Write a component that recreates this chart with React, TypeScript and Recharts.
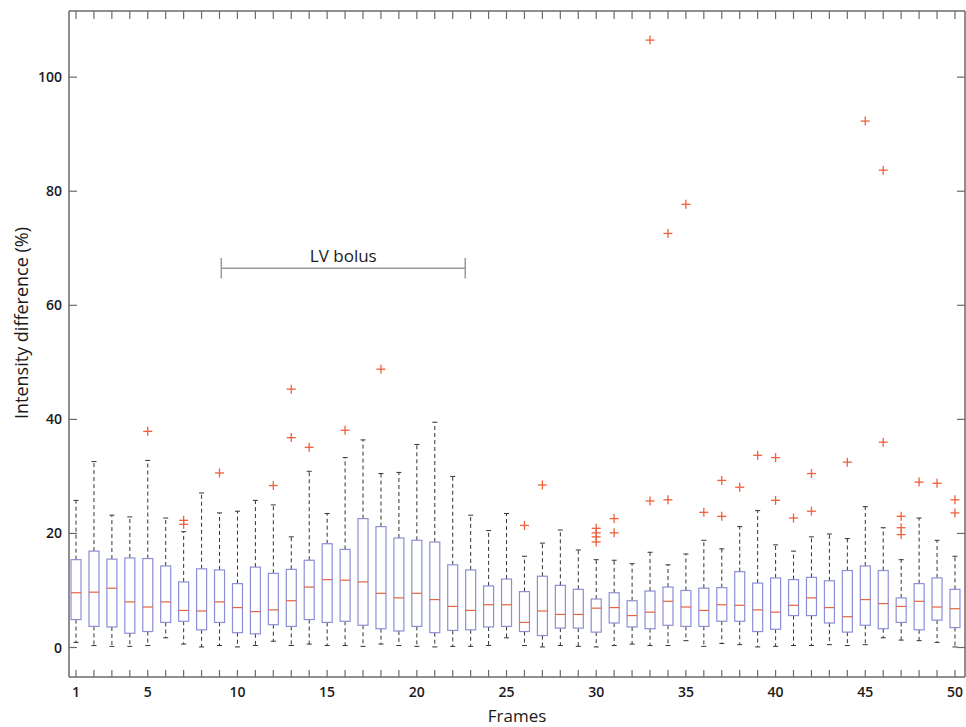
import { ComposedChart, Bar, Scatter, XAxis, YAxis, ReferenceLine, Label } from "recharts";

const frames = [
  1, 2, 3, 4, 5, 6, 7, 8, 9, 10, 11, 12, 13, 14, 15, 16, 17, 18, 19, 20, 21, 22, 23, 24, 25,
  26, 27, 28, 29, 30, 31, 32, 33, 34, 35, 36, 37, 38, 39, 40, 41, 42, 43, 44, 45, 46, 47, 48, 49, 50,
];
const whiskerLow = [
  0.9, 0.35, 0.2, 0.2, 0.35, 1.7, 0.6, 0.1, 0.35, 0.1, 0.35, 1.1, 0.35, 0.6, 0.35, 0.35, 0.2, 0.6, 0.35, 0.2,
  0.1, 0.2, 0.2, 0.35, 1.7, 0.35, 0.1, 0.35, 0.2, 0.1, 0.35, 0.6, 0.35, 0.35, 1.2, 0.2, 0.7, 0.5, 0.1, 0.2,
  0.35, 0.35, 0.5, 0.35, 0.5, 1.7, 1.3, 1.2, 0.9, 0.1,
];
const quartile1 = [
  4.9, 3.7, 3.6, 2.5, 2.8, 4.4, 4.6, 3.1, 4.4, 2.6, 2.4, 4.0, 3.7, 4.9, 4.4, 4.6, 3.9, 3.3, 2.9, 3.7,
  2.6, 3.0, 3.1, 3.6, 3.7, 2.8, 2.1, 3.4, 3.4, 2.7, 4.3, 3.6, 3.3, 3.9, 3.7, 3.7, 4.6, 4.6, 2.8, 3.2,
  5.6, 5.6, 4.3, 2.7, 3.9, 3.3, 4.4, 3.1, 4.8, 3.5,
];
const medians = [
  9.6, 9.7, 10.4, 8.0, 7.1, 8.0, 6.5, 6.4, 8.0, 7.0, 6.3, 6.6, 8.2, 10.6, 11.9, 11.8, 11.5, 9.5, 8.7, 9.5,
  8.4, 7.2, 6.5, 7.5, 7.5, 4.4, 6.4, 5.8, 5.8, 6.9, 7.0, 5.6, 6.2, 8.1, 7.1, 6.5, 7.5, 7.4, 6.6, 6.2,
  7.4, 8.7, 7.0, 5.4, 8.4, 7.7, 7.2, 8.1, 7.1, 6.8,
];
const quartile3 = [
  15.4, 16.9, 15.5, 15.7, 15.6, 14.3, 11.5, 13.8, 13.6, 11.2, 14.1, 13.0, 13.7, 15.3, 18.2, 17.2, 22.6, 21.2, 19.2, 18.8,
  18.5, 14.5, 13.6, 10.8, 12.0, 9.8, 12.5, 10.9, 10.2, 8.5, 9.6, 8.2, 9.9, 10.6, 10.0, 10.4, 10.5, 13.3, 11.3, 12.2,
  11.9, 12.3, 11.7, 13.5, 14.3, 13.5, 8.7, 11.2, 12.2, 10.2,
];
const whiskerHigh = [
  25.8, 32.6, 23.2, 22.9, 32.8, 22.7, 20.3, 27.1, 23.6, 23.9, 25.8, 25.0, 19.4, 30.9, 23.5, 33.3, 36.4, 30.5, 30.7, 35.6,
  39.5, 30.0, 23.2, 20.5, 23.5, 16.0, 18.3, 20.6, 17.1, 15.4, 15.3, 14.7, 16.7, 14.5, 16.4, 18.8, 17.3, 21.2, 24.0, 18.0,
  16.9, 19.4, 19.9, 19.1, 24.7, 21.0, 15.4, 22.7, 18.8, 16.0,
];
const outlierFrames = [
  5, 7, 7, 9, 12, 13, 13, 14, 16, 18, 26, 27, 30, 30, 30, 30, 31, 31, 33, 33, 34, 34, 35, 36, 37, 37,
  38, 39, 40, 40, 41, 42, 42, 44, 45, 46, 46, 47, 47, 47, 48, 49, 50, 50,
];
const outlierValues = [
  37.9, 22.3, 21.6, 30.6, 28.4, 36.8, 45.3, 35.1, 38.1, 48.8, 21.4, 28.5, 20.9, 20.1, 19.4, 18.5, 22.6, 20.1, 106.5, 25.7,
  72.6, 25.9, 77.7, 23.7, 29.3, 23.0, 28.1, 33.7, 33.3, 25.8, 22.7, 30.5, 23.9, 32.5, 92.3, 36.0, 83.7, 23.0, 21.0, 19.8,
  29.0, 28.8, 25.9, 23.6,
];
const xTickLabels = [1, 5, 10, 15, 20, 25, 30, 35, 40, 45, 50];
const yTicks = [0, 20, 40, 60, 80, 100];

const boxData = frames.map((frame, i) => ({
  frame,
  lo: whiskerLow[i],
  q1: quartile1[i],
  med: medians[i],
  q3: quartile3[i],
  hi: whiskerHigh[i],
}));
const outlierData = outlierFrames.map((frame, i) => ({ frame, value: outlierValues[i] }));

const AXIS = "#6a6a6a";
const TEXT = "#1a1a1a";
const BOX = "#8c8fd6";
const MEDIAN = "#e4643e";
const OUTLIER = "#f0603a";
const WHISKER = "#333";
const FONT = "'Open Sans', 'Noto Sans', sans-serif";

function BoxShape(props: any) {
  const { x, y, width, height, payload } = props;
  if (x == null || y == null) return null;
  const top = Math.min(y, y + height);
  const bottom = Math.max(y, y + height);
  const { lo, q1, med, q3, hi } = payload;
  const toY = (v: number) => bottom - ((v - lo) / (hi - lo)) * (bottom - top);
  const cx = x + width / 2;
  const half = 5;
  const cap = 2.5;
  return (
    <g>
      <line x1={cx} x2={cx} y1={toY(q3)} y2={toY(hi)} stroke={WHISKER} strokeDasharray="4 3" />
      <line x1={cx} x2={cx} y1={toY(q1)} y2={toY(lo)} stroke={WHISKER} strokeDasharray="4 3" />
      <line x1={cx - cap} x2={cx + cap} y1={toY(hi)} y2={toY(hi)} stroke={WHISKER} />
      <line x1={cx - cap} x2={cx + cap} y1={toY(lo)} y2={toY(lo)} stroke={WHISKER} />
      <rect
        x={cx - half}
        y={toY(q3)}
        width={half * 2}
        height={toY(q1) - toY(q3)}
        fill="#fff"
        stroke={BOX}
        strokeWidth={1.2}
      />
      <line x1={cx - half} x2={cx + half} y1={toY(med)} y2={toY(med)} stroke={MEDIAN} strokeWidth={1.2} />
    </g>
  );
}

function Cross(props: any) {
  const { cx, cy } = props;
  if (cx == null || cy == null) return null;
  return (
    <g stroke={OUTLIER} strokeWidth={1.3}>
      <line x1={cx - 4.5} x2={cx + 4.5} y1={cy} y2={cy} />
      <line x1={cx} x2={cx} y1={cy - 4.5} y2={cy + 4.5} />
    </g>
  );
}

function BottomTick(props: any) {
  const { x, y, payload } = props;
  return (
    <g>
      <line x1={x} x2={x} y1={y} y2={y - 7} stroke={AXIS} strokeWidth={1.2} />
      {xTickLabels.includes(payload.value) && (
        <text x={x} y={y + 20} textAnchor="middle" fill={TEXT} fontSize={14} fontWeight={600} fontFamily={FONT}>
          {payload.value}
        </text>
      )}
    </g>
  );
}

function TopTick(props: any) {
  const { x, y } = props;
  return <line x1={x} x2={x} y1={y} y2={y + 8} stroke={AXIS} strokeWidth={1.2} />;
}

function LeftTick(props: any) {
  const { x, y, payload } = props;
  return (
    <g>
      <line x1={x} x2={x + 8} y1={y} y2={y} stroke={AXIS} strokeWidth={1.2} />
      <text x={x - 7} y={y} dy={5} textAnchor="end" fill={TEXT} fontSize={14} fontWeight={600} fontFamily={FONT}>
        {payload.value}
      </text>
    </g>
  );
}

function RightTick(props: any) {
  const { x, y } = props;
  return <line x1={x} x2={x - 8} y1={y} y2={y} stroke={AXIS} strokeWidth={1.2} />;
}

const xDomain = [0.61, 50.56];
const yDomain = [-5.17, 111.6];

export default function App() {
  return (
    <div style={{ position: "absolute", left: 0, top: 0, background: "#fff" }}>
      <ComposedChart width={966} height={727} data={boxData} margin={{ top: 10, right: 0, bottom: 49, left: 0 }}>
        <XAxis
          xAxisId="b"
          dataKey="frame"
          type="number"
          domain={xDomain}
          allowDataOverflow
          ticks={frames}
          interval={0}
          height={1}
          tickSize={0}
          tickMargin={0}
          tickLine={false}
          tick={<BottomTick />}
          axisLine={{ stroke: AXIS, strokeWidth: 1.5 }}
        >
          <Label
            content={() => (
              <text x={517} y={722} textAnchor="middle" fill={TEXT} fontSize={17} fontFamily={FONT}>
                Frames
              </text>
            )}
          />
        </XAxis>
        <XAxis
          xAxisId="t"
          orientation="top"
          dataKey="frame"
          type="number"
          domain={xDomain}
          allowDataOverflow
          ticks={frames}
          interval={0}
          height={1}
          tickSize={0}
          tickMargin={0}
          tickLine={false}
          tick={<TopTick />}
          axisLine={{ stroke: AXIS, strokeWidth: 1.5 }}
        />
        <YAxis
          yAxisId="l"
          type="number"
          domain={yDomain}
          allowDataOverflow
          ticks={yTicks}
          interval={0}
          width={69}
          tickSize={0}
          tickMargin={0}
          tickLine={false}
          tick={<LeftTick />}
          axisLine={{ stroke: AXIS, strokeWidth: 1.5 }}
        >
          <Label
            content={() => (
              <text
                x={21}
                y={323}
                transform="rotate(-90 21 323)"
                textAnchor="middle"
                dominantBaseline="central"
                fill={TEXT}
                fontSize={18}
                fontFamily={FONT}
              >
                Intensity difference (%)
              </text>
            )}
          />
        </YAxis>
        <YAxis
          yAxisId="r"
          orientation="right"
          type="number"
          domain={yDomain}
          allowDataOverflow
          ticks={yTicks}
          interval={0}
          width={1}
          tickSize={0}
          tickMargin={0}
          tickLine={false}
          tick={<RightTick />}
          axisLine={{ stroke: AXIS, strokeWidth: 1.5 }}
        />
        <Bar
          xAxisId="b"
          yAxisId="l"
          dataKey={(d: any) => [d.lo, d.hi]}
          barSize={10}
          shape={<BoxShape />}
          isAnimationActive={false}
        />
        <Scatter
          xAxisId="b"
          yAxisId="l"
          data={outlierData}
          dataKey="value"
          shape={<Cross />}
          isAnimationActive={false}
        />
        <ReferenceLine
          xAxisId="b"
          yAxisId="l"
          segment={[{ x: 9.1, y: 66.5 }, { x: 22.7, y: 66.5 }]}
          stroke="#9a9a9a"
          strokeWidth={1.5}
        >
          <Label value="LV bolus" position="top" offset={6} fill={TEXT} fontSize={17} fontFamily={FONT} />
        </ReferenceLine>
        <ReferenceLine
          xAxisId="b"
          yAxisId="l"
          segment={[{ x: 9.1, y: 64.7 }, { x: 9.1, y: 68.3 }]}
          stroke="#9a9a9a"
          strokeWidth={1.5}
        />
        <ReferenceLine
          xAxisId="b"
          yAxisId="l"
          segment={[{ x: 22.7, y: 64.7 }, { x: 22.7, y: 68.3 }]}
          stroke="#9a9a9a"
          strokeWidth={1.5}
        />
      </ComposedChart>
    </div>
  );
}
